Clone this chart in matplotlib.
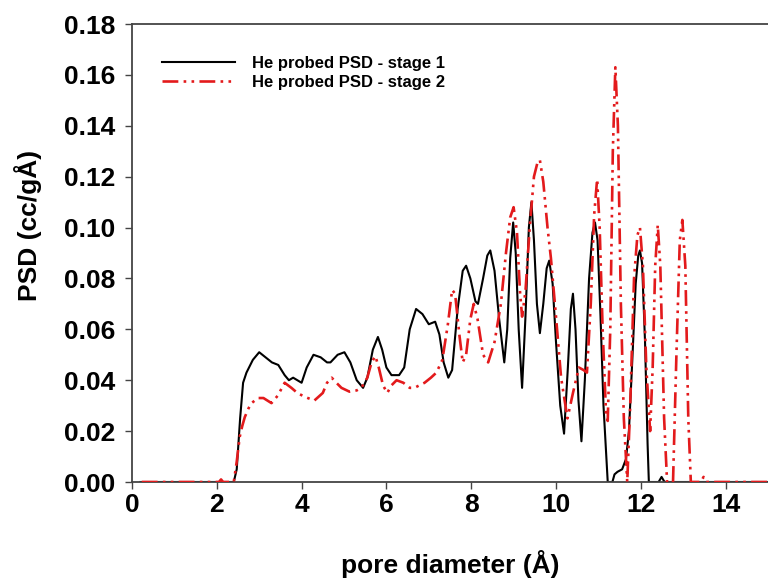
import matplotlib
matplotlib.use("Agg")
import matplotlib.pyplot as plt
import numpy as np

plt.rcParams['font.family'] = ['Liberation Sans', 'DejaVu Sans']
plt.rcParams['font.weight'] = 'bold'

# Stage 1 (black, solid)
x1 = [0.2, 2.4, 2.47, 2.55, 2.62, 2.7, 2.85, 3.0, 3.15, 3.3, 3.45, 3.6, 3.7, 3.8, 3.9, 4.0,
      4.12, 4.28, 4.45, 4.6, 4.68, 4.85, 5.01, 5.15, 5.3, 5.45, 5.55, 5.68, 5.8, 5.9, 6.0,
      6.12, 6.3, 6.42, 6.55, 6.7, 6.85, 7.0, 7.15, 7.25, 7.35, 7.46, 7.55, 7.68, 7.8, 7.88,
      7.98, 8.1, 8.16, 8.28, 8.38, 8.45, 8.55, 8.66, 8.78, 8.85, 8.92, 8.99, 9.05, 9.12, 9.2,
      9.28, 9.36, 9.42, 9.48, 9.55, 9.62, 9.7, 9.78, 9.84, 9.92, 10.0, 10.1, 10.19, 10.28,
      10.35, 10.4, 10.46, 10.53, 10.6, 10.68, 10.78, 10.86, 10.92, 10.98, 11.05, 11.12, 11.22,
      11.33, 11.38, 11.45, 11.56, 11.65, 11.72, 11.8, 11.88, 11.94, 11.98, 12.03, 12.1, 12.16,
      12.19, 12.42, 12.49, 12.56, 15.0]
y1 = [0, 0, 0.005, 0.025, 0.039, 0.043, 0.048, 0.051, 0.049, 0.047, 0.046, 0.042, 0.040, 0.041,
      0.040, 0.039, 0.045, 0.050, 0.049, 0.047, 0.047, 0.050, 0.051, 0.047, 0.040, 0.037, 0.041,
      0.052, 0.057, 0.052, 0.045, 0.042, 0.042, 0.045, 0.060, 0.068, 0.066, 0.062, 0.063, 0.058,
      0.047, 0.041, 0.044, 0.068, 0.083, 0.085, 0.080, 0.071, 0.070, 0.080, 0.089, 0.091, 0.083,
      0.064, 0.047, 0.060, 0.088, 0.102, 0.090, 0.060, 0.037, 0.065, 0.100, 0.110, 0.095, 0.070,
      0.0585, 0.070, 0.084, 0.087, 0.078, 0.055, 0.030, 0.019, 0.045, 0.068, 0.074, 0.060, 0.032,
      0.016, 0.040, 0.080, 0.098, 0.102, 0.095, 0.065, 0.030, 0, 0, 0.003, 0.004, 0.005, 0.009,
      0.020, 0.048, 0.078, 0.089, 0.091, 0.086, 0.055, 0.015, 0, 0, 0.002, 0, 0]

# Stage 2 (red, dash-dot-dot)
x2 = [0.23, 2.05, 2.1, 2.15, 2.4, 2.47, 2.54, 2.6, 2.66, 2.75, 2.82, 2.97, 3.1, 3.29, 3.44, 3.6,
      3.76, 3.9, 4.07, 4.3, 4.5, 4.6, 4.71, 4.82, 4.94, 5.13, 5.3, 5.41, 5.55, 5.65, 5.74, 5.82,
      5.92, 6.02, 6.12, 6.24, 6.4, 6.55, 6.66, 6.9, 7.05, 7.18, 7.32, 7.45, 7.55, 7.62, 7.72,
      7.8, 7.88, 7.98, 8.06, 8.15, 8.28, 8.4, 8.55, 8.7, 8.82, 8.92, 9.0, 9.08, 9.15, 9.2, 9.28,
      9.38, 9.48, 9.57, 9.62, 9.7, 9.8, 9.88, 10.0, 10.12, 10.27, 10.4, 10.54, 10.65, 10.73,
      10.82, 10.9, 10.97, 11.03, 11.1, 11.18, 11.22, 11.28, 11.34, 11.4, 11.46, 11.53, 11.6,
      11.68, 11.75, 11.84, 11.92, 11.98, 12.05, 12.13, 12.22, 12.28, 12.34, 12.4, 12.46, 12.55,
      12.62, 12.76, 12.84, 12.92, 12.98, 13.05, 13.12, 13.18, 13.42, 13.48, 13.54, 15.0]
y2 = [0, 0, 0.001, 0, 0, 0.008, 0.0177, 0.022, 0.0255, 0.029, 0.031, 0.033, 0.033, 0.031, 0.034,
      0.039, 0.037, 0.035, 0.0335, 0.032, 0.035, 0.039, 0.041, 0.039, 0.037, 0.0355, 0.036, 0.037,
      0.041, 0.047, 0.0495, 0.045, 0.038, 0.035, 0.038, 0.040, 0.039, 0.037, 0.037, 0.039, 0.041,
      0.043, 0.048, 0.062, 0.0755, 0.074, 0.058, 0.047, 0.050, 0.064, 0.070, 0.064, 0.050, 0.047,
      0.055, 0.070, 0.090, 0.104, 0.108, 0.098, 0.075, 0.065, 0.075, 0.100, 0.120, 0.126, 0.1265,
      0.118, 0.100, 0.088, 0.065, 0.041, 0.025, 0.035, 0.045, 0.044, 0.043, 0.070, 0.105, 0.119,
      0.100, 0.060, 0.027, 0.024, 0.060, 0.130, 0.163, 0.140, 0.070, 0.025, 0, 0.030, 0.080,
      0.097, 0.100, 0.085, 0.045, 0.020, 0.045, 0.085, 0.101, 0.085, 0.025, 0, 0, 0.050, 0.095,
      0.103, 0.085, 0.025, 0, 0, 0.002, 0, 0]

labels = ["He probed PSD - stage 1", "He probed PSD - stage 2"]
x_ticks = [0, 2, 4, 6, 8, 10, 12, 14]
y_ticks = [0.00, 0.02, 0.04, 0.06, 0.08, 0.10, 0.12, 0.14, 0.16, 0.18]

fig = plt.figure(figsize=(7.68, 5.86), dpi=100)
ax = fig.add_axes([132/768, 1 - 482/586, 636/768, 458/586])

ax.plot(x1, y1, color='black', lw=1.5, label=labels[0], zorder=2)
ax.plot(x2, y2, color='#e31a1c', lw=1.9, ls=(0, (6, 2, 1, 2, 1, 2)), label=labels[1], zorder=3)

ax.set_xlim(0, 15)
ax.set_ylim(0, 0.18)
ax.set_xticks(x_ticks)
ax.set_yticks(y_ticks)
ax.set_yticklabels([f"{v:.2f}" for v in y_ticks])
ax.tick_params(direction='out', length=5, width=1, color='#444444', labelsize=19, pad=3)
ax.tick_params(axis='y', pad=7)
for s in ['left', 'bottom', 'top']:
    ax.spines[s].set_color('#444444')
    ax.spines[s].set_linewidth(1.3)
ax.spines['right'].set_visible(False)

ax.set_xlabel("pore diameter (Å)", fontsize=19, fontweight='bold', labelpad=24)
ax.set_ylabel("PSD (cc/gÅ)", fontsize=19, fontweight='bold')
ax.yaxis.set_label_coords(-0.142, 0.56)

leg = ax.legend(loc='upper left', bbox_to_anchor=(0.047, 0.93), frameon=False,
                prop={'size': 12, 'weight': 'bold'}, handlelength=4.4, handletextpad=1.0,
                labelspacing=0.25, borderpad=0, borderaxespad=0)

fig.savefig("out.png", dpi=100)
